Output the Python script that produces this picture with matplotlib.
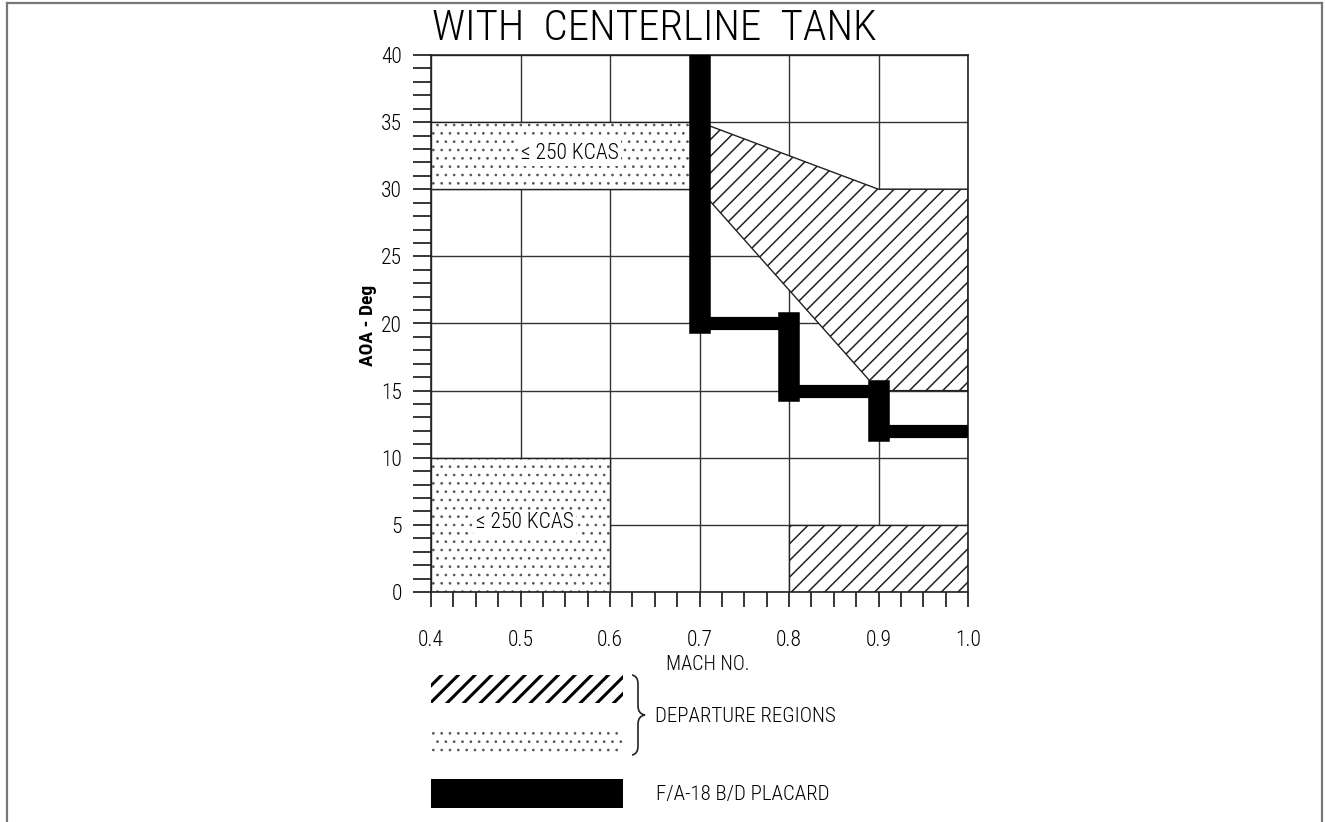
import matplotlib.pyplot as plt
import matplotlib.ticker as mticker
from matplotlib.patches import Polygon, Rectangle, PathPatch
from matplotlib.path import Path
from matplotlib.lines import Line2D

plt.rcParams['font.family'] = ['Roboto Condensed', 'Liberation Sans Narrow', 'DejaVu Sans']
plt.rcParams['font.stretch'] = 'condensed'
plt.rcParams['font.weight'] = 'light'
plt.rcParams['hatch.linewidth'] = 1.1

# Departure regions (Mach, AOA)
hatch_upper_mach = [0.70, 0.90, 1.00, 1.00, 0.90, 0.70]
hatch_upper_aoa = [35, 30, 30, 15, 15, 30]
hatch_lower_mach = [0.80, 1.00]
hatch_lower_aoa = [0, 5]
stipple_upper_mach = [0.40, 0.70]
stipple_upper_aoa = [30, 35]
stipple_lower_mach = [0.40, 0.60]
stipple_lower_aoa = [0, 10]
kcas_label = '≤ 250 KCAS'

# F/A-18 B/D placard boundary
placard_mach = [0.70, 0.70, 0.80, 0.80, 0.90, 0.90, 1.00]
placard_aoa = [40, 20, 20, 15, 15, 12, 12]

mach_ticks = [0.4, 0.5, 0.6, 0.7, 0.8, 0.9, 1.0]
aoa_ticks = [0, 5, 10, 15, 20, 25, 30, 35, 40]

W, H = 1326, 822


def fx(px):
    return px / W


def fy(py):
    return 1 - py / H


def stipple(patch):
    # light speckle texture, drawn without the outline
    patch.set_edgecolor('#555555')
    patch.set_linewidth(0)
    patch.set_hatch('..')
    if hasattr(patch, 'set_hatch_linewidth'):
        patch.set_hatch_linewidth(0.7)
    return patch


fig = plt.figure(figsize=(W / 100, H / 100), dpi=100)
ax = fig.add_axes([fx(431), fy(592), 537 / W, 537 / H])

ax.set_xlim(mach_ticks[0], mach_ticks[-1])
ax.set_ylim(aoa_ticks[0], aoa_ticks[-1])
ax.set_xticks(mach_ticks)
ax.set_yticks(aoa_ticks)
ax.xaxis.set_major_formatter(mticker.FormatStrFormatter('%.1f'))
ax.xaxis.set_minor_locator(mticker.MultipleLocator(0.025))
ax.yaxis.set_minor_locator(mticker.MultipleLocator(1))
ax.grid(True, which='major', color='#333333', linewidth=1.0, zorder=0)
ax.set_axisbelow(True)
for s in ax.spines.values():
    s.set_linewidth(1.2)
    s.set_color('#222222')
ax.tick_params(axis='y', which='both', direction='out', length=13, width=1.1,
               labelsize=15.5, pad=8)
ax.tick_params(axis='x', which='both', direction='out', length=11, width=1.1,
               labelsize=15.5, pad=16)

ax.set_xlabel('MACH NO.', fontsize=14.5, fontweight='light')
ax.xaxis.set_label_coords(0.516, -0.117)
ax.set_ylabel('AOA - Deg', fontsize=14, fontweight='bold')
ax.yaxis.set_label_coords(-0.100, 0.497)

# stippled (low speed) departure regions
for mach, aoa in [(stipple_upper_mach, stipple_upper_aoa),
                  (stipple_lower_mach, stipple_lower_aoa)]:
    xy = (mach[0], aoa[0])
    w, h = mach[1] - mach[0], aoa[1] - aoa[0]
    ax.add_patch(Rectangle(xy, w, h, facecolor='white', edgecolor='none', zorder=2))
    ax.add_patch(stipple(Rectangle(xy, w, h, facecolor='none', zorder=2)))
    ax.add_patch(Rectangle(xy, w, h, facecolor='none', edgecolor='#222222',
                           linewidth=1.0, zorder=2))
    ax.text((mach[0] + mach[1]) / 2 + 0.005, (aoa[0] + aoa[1]) / 2 + 0.2, kcas_label,
            ha='center', va='center', fontsize=15.5, zorder=3,
            bbox=dict(facecolor='white', edgecolor='none', pad=1.5))

# hatched departure regions
ax.add_patch(Polygon(list(zip(hatch_upper_mach, hatch_upper_aoa)), closed=True,
                     facecolor='white', edgecolor='#222222', linewidth=1.0,
                     hatch='//', zorder=2))
ax.add_patch(Rectangle((hatch_lower_mach[0], hatch_lower_aoa[0]),
                       hatch_lower_mach[1] - hatch_lower_mach[0],
                       hatch_lower_aoa[1] - hatch_lower_aoa[0],
                       facecolor='white', edgecolor='#222222', linewidth=1.0,
                       hatch='//', zorder=2))

# placard: heavy stepped line, verticals drawn wider than horizontals
for i in range(len(placard_mach) - 1):
    xs = placard_mach[i:i + 2]
    ys = placard_aoa[i:i + 2]
    lw = 15.5 if xs[0] == xs[1] else 9.5
    ax.plot(xs, ys, color='black', linewidth=lw, solid_capstyle='projecting',
            zorder=4)

fig.text(fx(654), fy(29), 'WITH  CENTERLINE  TANK', ha='center', va='center',
         fontsize=31)

# legend block below the chart
leg_hatch = Rectangle((fx(431), fy(703)), 192 / W, 28 / H, transform=fig.transFigure,
                      facecolor='white', edgecolor='black', linewidth=0, hatch='//')
if hasattr(leg_hatch, 'set_hatch_linewidth'):
    leg_hatch.set_hatch_linewidth(2.2)
fig.add_artist(leg_hatch)
fig.add_artist(stipple(Rectangle((fx(431), fy(755)), 192 / W, 28 / H,
                                 transform=fig.transFigure, facecolor='white')))
fig.add_artist(Rectangle((fx(431), fy(808)), 192 / W, 29 / H, transform=fig.transFigure,
                         facecolor='black', edgecolor='none'))

brace_px = [(632, 675), (638, 676), (638, 684), (638, 706), (638, 714), (645, 715),
            (638, 716), (638, 724), (638, 746), (638, 754), (632, 755)]
brace_codes = [Path.MOVETO, Path.CURVE3, Path.CURVE3, Path.LINETO, Path.CURVE3,
               Path.CURVE3, Path.CURVE3, Path.CURVE3, Path.LINETO, Path.CURVE3,
               Path.CURVE3]
brace = Path([(fx(x), fy(y)) for x, y in brace_px], brace_codes)
fig.add_artist(PathPatch(brace, transform=fig.transFigure, facecolor='none',
                         edgecolor='#222222', linewidth=1.2))
fig.text(fx(655), fy(716), 'DEPARTURE REGIONS', ha='left', va='center', fontsize=15)
fig.text(fx(656), fy(794), 'F/A-18 B/D PLACARD', ha='left', va='center', fontsize=15)

# page frame
frame_kw = dict(transform=fig.transFigure, color='#777777', linewidth=1.6)
fig.add_artist(Line2D([fx(7), fx(7)], [0, fy(3)], **frame_kw))
fig.add_artist(Line2D([fx(7), fx(1322)], [fy(3), fy(3)], **frame_kw))
fig.add_artist(Line2D([fx(1322), fx(1322)], [0, fy(3)], **frame_kw))

fig.savefig('out.png', dpi=100)
